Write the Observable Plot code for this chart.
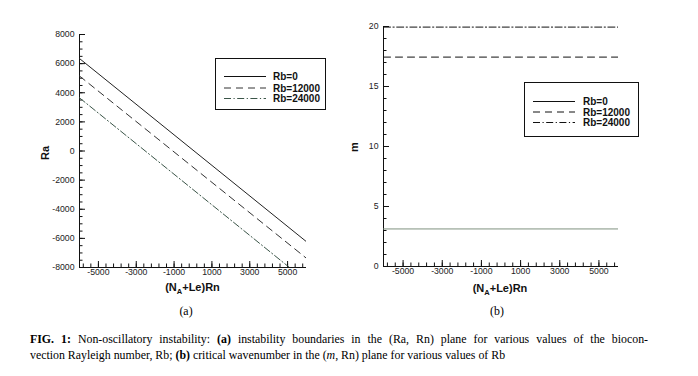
<!DOCTYPE html>
<html><head><meta charset="utf-8">
<script src="https://cdn.jsdelivr.net/npm/d3@7"></script>
<script src="https://cdn.jsdelivr.net/npm/@observablehq/plot@0.6"></script>
<style>
body{margin:0;background:#fff;}
#wrap{position:relative;width:698px;height:376px;overflow:hidden;background:#fff;}
.panel{position:absolute;top:0;}
.legend{position:absolute;border:1px solid #111;background:#fff;box-sizing:border-box;}
.ltxt{position:absolute;font:bold 10px "Liberation Sans",Arial,sans-serif;color:#111;line-height:1;white-space:nowrap;transform:translateY(-50%);}
.axt{position:absolute;font:bold 11px "Liberation Sans",Arial,sans-serif;color:#111;white-space:nowrap;line-height:1;}
.axt sub{font-size:7.5px;vertical-align:-3px;}
.cap{position:absolute;font:11px "Liberation Serif","Times New Roman",serif;color:#000;white-space:nowrap;line-height:1;}
</style></head>
<body><div id="wrap"></div>
<script>
// ---- data ----
const seriesLabels = ["Rb=0", "Rb=12000", "Rb=24000"];
const rnRb0 = [-6000, 6000];
const raRb0 = [6350, -6230];
const rnRb12000 = [-6000, 6000];
const raRb12000 = [5150, -7370];
const rnRb24000 = [-6000, 5100];
const raRb24000 = [3650, -8000];
const rnM = [-6000, 6000];
const mRb0 = [3.13, 3.13];
const mRb12000 = [17.45, 17.45];
const mRb24000 = [19.95, 19.95];
const xTickLabels = [-5000, -3000, -1000, 1000, 3000, 5000];
const raTickLabels = [-8000, -6000, -4000, -2000, 0, 2000, 4000, 6000, 8000];
const mTickLabels = [0, 5, 10, 15, 20];

const styles = [
  {stroke: "#222", dash: null},
  {stroke: "#333", dash: "7,5"},
  {stroke: "#3b5548", dash: "7,2.5,1.2,2.5"}
];
const stylesM = [
  {stroke: "#7f917f", dash: null},
  {stroke: "#111", dash: "7,5"},
  {stroke: "#111", dash: "7,2.5,1.2,2.5"}
];

const wrap = document.getElementById("wrap");
const xMinor = d3.range(-5800, 6001, 400);
const raMinor = d3.range(-8000, 8001, 500);
const mMinor = d3.range(0, 20.01, 1);

function rows(xs, ys) { return xs.map((x, i) => ({x, y: ys[i]})); }

function panel({left, width, height, mt, mr, mb, ml, yDomain, yTicks, yMinor, series, st}) {
  const p = Plot.plot({
    width, height, marginTop: mt, marginRight: mr, marginBottom: mb, marginLeft: ml,
    style: {fontFamily: "'Liberation Sans', Arial, sans-serif", fontSize: "8.7px", color: "#222", background: "white", overflow: "visible"},
    x: {domain: [-6000, 6000], label: null},
    y: {domain: yDomain, label: null},
    marks: [
      Plot.axisX(xMinor, {tickSize: -3.5, text: null, stroke: "#111", label: null}),
      Plot.axisX(xTickLabels, {tickSize: -6, tickPadding: 7, stroke: "#111", fill: "#222", label: null, tickFormat: d => String(d)}),
      Plot.axisY(yMinor, {tickSize: -3.5, text: null, stroke: "#111", label: null}),
      Plot.axisY(yTicks, {tickSize: -6, tickPadding: 11, stroke: "#111", fill: "#222", label: null, tickFormat: d => String(d)}),
      Plot.ruleX([-6000], {stroke: "#111"}),
      Plot.ruleY([yDomain[0]], {stroke: "#111"}),
      ...series.map((s, i) => Plot.line(s, {x: "x", y: "y", stroke: st[i].stroke, strokeWidth: 1, strokeDasharray: st[i].dash, clip: true}))
    ]
  });
  p.classList.add("panel");
  p.style.left = left + "px";
  wrap.appendChild(p);
}

panel({left: 0, width: 340, height: 300, mt: 34, mr: 34, mb: 33, ml: 79,
  yDomain: [-8000, 8000], yTicks: raTickLabels, yMinor: raMinor,
  series: [rows(rnRb0, raRb0), rows(rnRb12000, raRb12000), rows(rnRb24000, raRb24000)], st: styles});
panel({left: 340, width: 358, height: 300, mt: 26, mr: 80, mb: 34, ml: 43,
  yDomain: [0, 20], yTicks: mTickLabels, yMinor: mMinor,
  series: [rows(rnM, mRb0), rows(rnM, mRb12000), rows(rnM, mRb24000)], st: stylesM});

function legend(x0, y0, w, h, lx1, lx2, tx, ys, st) {
  const d = document.createElement("div");
  d.className = "legend";
  Object.assign(d.style, {left: x0 + "px", top: y0 + "px", width: w + "px", height: h + "px"});
  wrap.appendChild(d);
  const ns = "http://www.w3.org/2000/svg";
  const svg = document.createElementNS(ns, "svg");
  svg.setAttribute("width", w); svg.setAttribute("height", h);
  svg.style.position = "absolute"; svg.style.left = "-1px"; svg.style.top = "-1px";
  d.appendChild(svg);
  seriesLabels.forEach((lab, i) => {
    const l = document.createElementNS(ns, "line");
    l.setAttribute("x1", lx1 - x0); l.setAttribute("x2", lx2 - x0);
    l.setAttribute("y1", ys[i] - y0 + 0.5); l.setAttribute("y2", ys[i] - y0 + 0.5);
    l.setAttribute("stroke", i === 0 ? "#111" : st[i].stroke);
    if (st[i].dash) l.setAttribute("stroke-dasharray", st[i].dash);
    svg.appendChild(l);
    const t = document.createElement("div");
    t.className = "ltxt"; t.textContent = lab;
    t.style.left = (tx - x0 - 1) + "px"; t.style.top = (ys[i] - y0) + "px";
    d.appendChild(t);
  });
}
legend(215, 58, 111, 52, 224, 266, 273, [76, 87.5, 98], styles);
legend(524, 82, 115, 55, 533, 575, 583, [101, 111.5, 122], stylesM);

function txt(cls, html, cx, cy, rot) {
  const e = document.createElement("div");
  e.className = cls; e.innerHTML = html;
  e.style.left = cx + "px"; e.style.top = cy + "px";
  e.style.transform = "translate(-50%,-50%)" + (rot ? " rotate(-90deg)" : "");
  wrap.appendChild(e);
  return e;
}
txt("axt", "Ra", 45, 153, true);
txt("axt", "m", 354, 147, true);
txt("axt", "(N<sub>A</sub>+Le)Rn", 192.5, 288.5, false);
txt("axt", "(N<sub>A</sub>+Le)Rn", 500, 290, false);
const ca = txt("cap", "(a)", 186, 312, false);
const cb = txt("cap", "(b)", 497, 312, false);
const c1 = document.createElement("div");
c1.className = "cap";
c1.innerHTML = "<b>FIG. 1:</b> Non-oscillatory instability: <b>(a)</b> instability boundaries in the (Ra, Rn) plane for various values of the biocon-";
c1.style.left = "30px"; c1.style.top = "334px";
wrap.appendChild(c1);
const c2 = document.createElement("div");
c2.className = "cap";
c2.innerHTML = "vection Rayleigh number, Rb; <b>(b)</b> critical wavenumber in the (<i>m</i>, Rn) plane for various values of Rb";
c2.style.left = "30px"; c2.style.top = "350px";
wrap.appendChild(c2);
// last line sets the natural size; first line is justified (30 → 648)
const w2 = c2.getBoundingClientRect().width;
const fs = 11 * 475 / w2;
[c1, c2, ca, cb].forEach(e => e.style.fontSize = fs.toFixed(2) + "px");
const w1 = c1.getBoundingClientRect().width;
const nSpaces = c1.textContent.split(" ").length - 1;
c1.style.wordSpacing = Math.max(0, (618 - w1) / nSpaces).toFixed(2) + "px";
</script></body></html>
